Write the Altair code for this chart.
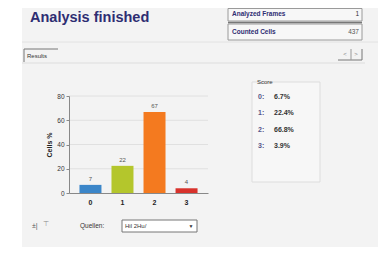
import altair as alt
import pandas as pd

# ---- data ----
classes = ["0", "1", "2", "3"]
cells_pct = [6.7, 22.4, 66.8, 3.9]
bar_colors = ["#3b86c9", "#b4c62c", "#f47a1f", "#d8322c"]
y_ticks = [0, 20, 40, 60, 80]
analyzed_frames = "1"
counted_cells = "437"
source_option = "Hil 2Hu/"

FONT = "Liberation Sans"
NAVY = "#2e2d72"

df = pd.DataFrame({
    "cls": classes,
    "pct": cells_pct,
    "lbl": [str(round(v)) for v in cells_pct],
})
grid_df = pd.DataFrame({"pct": y_ticks[1:]})

one = alt.Data(values=[{}])

# plot origin on the page (x of y-axis, y of value 80)
OX, OY = 69, 96


def px(X):
    return X - OX


def py(Y):
    return Y - OY


def txt(s, X, Y, size=7, weight="normal", color="#333333", align="left"):
    return alt.Chart(one).mark_text(
        text=s, align=align, baseline="middle", fontSize=size,
        fontWeight=weight, color=color, font=FONT
    ).encode(x=alt.value(px(X)), y=alt.value(py(Y)))


def box(X1, Y1, X2, Y2, fill="none", stroke="#a0a0a0", sw=1):
    kw = dict(fill=fill, stroke=stroke, strokeWidth=sw)
    if fill == "none":
        kw["fillOpacity"] = 0
    return alt.Chart(one).mark_rect(**kw).encode(
        x=alt.value(px(X1)), x2=alt.value(px(X2)),
        y=alt.value(py(Y1)), y2=alt.value(py(Y2)))


def hline(X1, X2, Y, color="#a0a0a0", sw=1):
    return alt.Chart(one).mark_rule(color=color, strokeWidth=sw).encode(
        x=alt.value(px(X1)), x2=alt.value(px(X2)),
        y=alt.value(py(Y)))


def vline(X, Y1, Y2, color="#a0a0a0", sw=1):
    return alt.Chart(one).mark_rule(color=color, strokeWidth=sw).encode(
        x=alt.value(px(X)), y=alt.value(py(Y1)), y2=alt.value(py(Y2)))


deco = [
    box(22, 8, 378, 247, fill="#f3f3f3", stroke="#f3f3f3", sw=0),
    hline(22, 378, 42, color="#e2e2e2"),
    txt("Analysis finished", 30, 18, size=14.5, weight="bold", color=NAVY),
    # info table
    box(228, 8.5, 362, 21, fill="#f7f7f7", stroke="#9a9a9a"),
    box(228, 24, 362, 40, fill="#f7f7f7", stroke="#9a9a9a"),
    hline(228, 362, 22.5, color="#777777", sw=1.5),
    txt("Analyzed Frames", 232, 14, size=6.5, weight="bold", color=NAVY),
    txt(analyzed_frames, 359, 14, size=6.5, color="#333333", align="right"),
    txt("Counted Cells", 232, 32, size=6.5, weight="bold", color=NAVY),
    txt(counted_cells, 359, 32, size=6.5, color="#555555", align="right"),
    # tab + buttons
    hline(24, 58, 49, color="#777777"),
    vline(24, 49, 62, color="#777777"),
    txt("Results", 27, 56, size=6, color="#333333"),
    hline(22, 365, 63, color="#dddddd"),
    hline(338, 362, 60, color="#777777"),
    vline(351, 49, 60, color="#999999"),
    vline(362, 49, 60, color="#777777"),
    txt("<", 345, 54, size=6, color="#888888", align="center"),
    txt(">", 356, 54, size=6, color="#888888", align="center"),
    # score box
    box(252, 82, 320, 182, fill="#f7f7f7", stroke="#dddddd"),
    txt("Score", 257, 82, size=6, color="#333333"),
    # bottom controls
    txt("±|", 32, 226, size=7, color="#555555"),
    txt("⊤", 43, 224, size=7, color="#888888"),
    txt("Quellen:", 80, 226, size=6.5, color="#333333"),
    box(122, 220, 197, 232, fill="#ffffff", stroke="#777777"),
    txt(source_option, 125, 226, size=6, color="#333333"),
    txt("▼", 191, 226, size=5, color="#333333", align="center"),
]

score_rows = []
for i, (c, v) in enumerate(zip(classes, cells_pct)):
    Y = 97 + i * 16.3
    score_rows.append(txt(f"{c}:", 258, Y, size=7, weight="bold", color="#55558a"))
    score_rows.append(txt(f"{v:.1f}%", 274, Y, size=7, weight="bold", color="#333333"))

y_axis = alt.Axis(values=y_ticks, labelFontSize=6.5, labelColor="#333333",
                  titleFontSize=7, titleFontWeight="bold", titleColor="#222222",
                  domainColor="#888888", tickColor="#888888", tickSize=3,
                  grid=False, labelFont=FONT, titleFont=FONT,
                  labelOverlap=False, titlePadding=4, zindex=1)
y_scale = alt.Scale(domain=[0, 80], nice=False)
x_axis = alt.Axis(labelAngle=0, labelFontWeight="bold", labelFontSize=7,
                  labelColor="#222222", ticks=False, domainColor="#888888",
                  labelPadding=5, labelFont=FONT, zindex=1, grid=False)
x_scale = alt.Scale(paddingInner=0.3, paddingOuter=0.32)

grid = alt.Chart(grid_df).mark_rule(color="#e0e0e0", strokeWidth=1).encode(
    y=alt.Y("pct:Q", title="Cells %", scale=y_scale, axis=y_axis),
    x=alt.value(0), x2=alt.value(139))

base = alt.Chart(df)
bars = base.mark_bar(size=22).encode(
    x=alt.X("cls:N", title=None, sort=classes, scale=x_scale, axis=x_axis),
    y=alt.Y("pct:Q", title="Cells %", scale=y_scale, axis=y_axis),
    color=alt.Color("cls:N", scale=alt.Scale(domain=classes, range=bar_colors), legend=None),
)
labels = base.mark_text(dy=-6, fontSize=6, color="#555555", font=FONT).encode(
    x=alt.X("cls:N", title=None, sort=classes, scale=x_scale, axis=x_axis),
    y=alt.Y("pct:Q", title="Cells %", scale=y_scale, axis=y_axis),
    text="lbl:N")

chart = alt.layer(*deco, *score_rows, grid, bars, labels).properties(
    width=139, height=97,
    padding={"left": 61, "top": 88, "right": 173, "bottom": 54},
    autosize=alt.AutoSizeParams(type="none"),
    background="white",
).configure_view(stroke=None).configure_axisY(labelOverlap=False)

chart.save("out.html", embed_options={"renderer": "svg", "actions": False})
